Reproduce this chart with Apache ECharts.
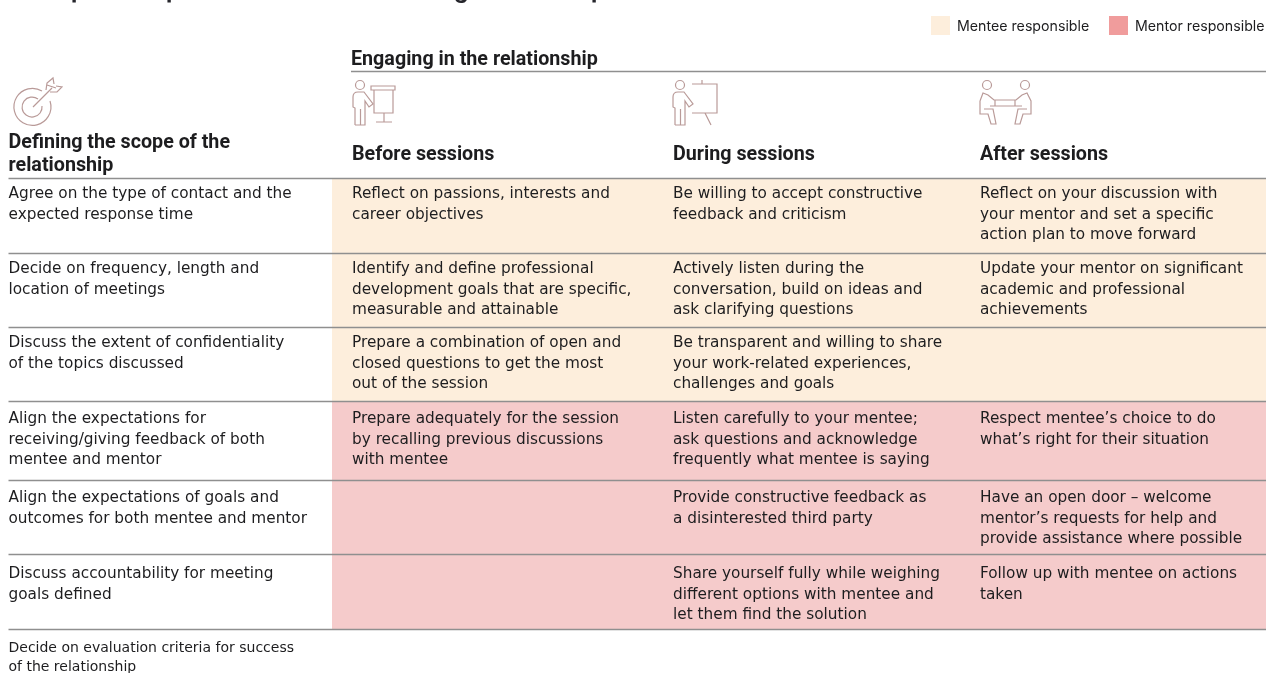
<!DOCTYPE html>
<html><head><meta charset="utf-8">
<style>html,body{margin:0;padding:0;background:#fff}#c{width:1267px;height:673px}</style>
<script src="https://cdn.jsdelivr.net/npm/echarts@6/dist/echarts.min.js"></script>
</head><body><div id="c"></div>
<script>
const columnTitles = ["Before sessions", "During sessions", "After sessions"];
const groupTitle = "Engaging in the relationship";
const scopeTitle = "Defining the scope of the\nrelationship";
const legendLabels = ["Mentee responsible", "Mentor responsible"];
const titleFragments = ["p", "p", "g", "p"];
const rowRoles = ["mentee", "mentee", "mentee", "mentor", "mentor", "mentor"];
const scopeItems = [
  "Agree on the type of contact and the\nexpected response time",
  "Decide on frequency, length and\nlocation of meetings",
  "Discuss the extent of confidentiality\nof the topics discussed",
  "Align the expectations for\nreceiving/giving feedback of both\nmentee and mentor",
  "Align the expectations of goals and\noutcomes for both mentee and mentor",
  "Discuss accountability for meeting\ngoals defined",
  "Decide on evaluation criteria for success\nof the relationship"
];
const beforeItems = [
  "Reflect on passions, interests and\ncareer objectives",
  "Identify and define professional\ndevelopment goals that are specific,\nmeasurable and attainable",
  "Prepare a combination of open and\nclosed questions to get the most\nout of the session",
  "Prepare adequately for the session\nby recalling previous discussions\nwith mentee",
  "", ""
];
const duringItems = [
  "Be willing to accept constructive\nfeedback and criticism",
  "Actively listen during the\nconversation, build on ideas and\nask clarifying questions",
  "Be transparent and willing to share\nyour work-related experiences,\nchallenges and goals",
  "Listen carefully to your mentee;\nask questions and acknowledge\nfrequently what mentee is saying",
  "Provide constructive feedback as\na disinterested third party",
  "Share yourself fully while weighing\ndifferent options with mentee and\nlet them find the solution"
];
const afterItems = [
  "Reflect on your discussion with\nyour mentor and set a specific\naction plan to move forward",
  "Update your mentor on significant\nacademic and professional\nachievements",
  "",
  "Respect mentee\u2019s choice to do\nwhat\u2019s right for their situation",
  "Have an open door \u2013 welcome\nmentor\u2019s requests for help and\nprovide assistance where possible",
  "Follow up with mentee on actions\ntaken"
];

// ---- layout (page units, mapped through the hidden axes) ----
const W = 1267, H = 673;
const rowEdges = [178, 253, 327, 401, 480, 554, 629];
const firstLine = [194.5, 269.5, 343.5, 419.5, 498.5, 574.5, 648.5];
const columnX = [352, 673, 980];
const fillLeft = 332, scopeX = 8.5, right = 1266;
const BODY = '400 15.3px "DejaVu Sans"';
const SMALL = '400 14px "DejaVu Sans"';
const KEY = '400 14.2px "Inter"';
const HEAD = '700 19.7px "Roboto"';
const INK = '#1d1d1f', LINE = '#8f8f8f', ICON = '#b99a98';
const COLORS = { mentee: '#fdeedc', mentor: '#f5cbcb', menteeKey: '#fdeedc', mentorKey: '#f09c9c' };

const rects = [], rules = [], texts = [];
rowRoles.forEach((r, i) => rects.push([fillLeft, rowEdges[i], right, rowEdges[i + 1], COLORS[r]]));
rects.push([931, 16, 950, 35, COLORS.menteeKey]);
rects.push([1109, 16, 1128, 35, COLORS.mentorKey]);
rowEdges.forEach(y => rules.push([scopeX, y, right, y]));
rules.push([351, 71, right, 71]);

function addText(x, y, text, font, lh, fill) { if (text) texts.push([x, y, text, font, lh, fill || INK]); }
scopeItems.forEach((t, i) => addText(scopeX, firstLine[i], t, i === 6 ? SMALL : BODY, i === 6 ? 19 : 20.5));
[beforeItems, duringItems, afterItems].forEach((col, c) =>
  col.forEach((t, i) => addText(columnX[c], firstLine[i], t, BODY, 20.5)));
columnTitles.forEach((t, c) => addText(columnX[c], 155, t, HEAD, 22));
addText(351, 60.5, groupTitle, HEAD, 22);
addText(scopeX, 143.5, scopeTitle, HEAD, 23);
addText(957, 27, legendLabels[0], KEY, 20);
addText(1135, 27, legendLabels[1], KEY, 20);
[71, 166, 454, 591].forEach((x, i) => addText(x, -9, titleFragments[i], '700 23px "Inter"', 22, '#26262c'));

const person = (dx) => `M${dx+355} 125 V108 L${dx+353} 107 V97 Q${dx+353} 92 ${dx+358} 92 H${dx+364} L${dx+373} 104 L${dx+369} 107 L${dx+365} 101 V125 H${dx+360.5} V109 M${dx+360.5} 125 H${dx+355} M${dx+364.5} 85 A4.5 4.5 0 1 1 ${dx+355.5} 85 A4.5 4.5 0 1 1 ${dx+364.5} 85`;
const iconPaths = [
  'M42 91 A18.5 18.5 0 1 0 50 101 M38 99 A10 10 0 1 0 42 106 M33 107 L52 88 M46 90 L47 83 L53 78 L54 84 M50 92 L57 92 L62 87 L56 86 M47 85 L56 88',
  person(0), 'M371 86 H395 V90 H371 Z M374 90 V113 H393 V90 M384 113 V122 M376 122 H392',
  person(320), 'M692 84 H717 V113 H692 M702 80 V84 M705 113 L711 125',
  'M980 101 L983 93 L988 95 L994 100 H1016 L1022 95 L1027 93 L1031 101 V114 H1023 L1020 124 H1015 L1018 109 H1027 M980 101 V114 H988 L991 124 H996 L993 109 H984 M990 106 H1022 M995 100 V106 M1015 100 V106 M991.5 85 A4.5 4.5 0 1 1 982.5 85 A4.5 4.5 0 1 1 991.5 85 M1029.5 85 A4.5 4.5 0 1 1 1020.5 85 A4.5 4.5 0 1 1 1029.5 85'
];

function rectSeries() {
  return { type: 'custom', coordinateSystem: 'cartesian2d', silent: true, data: rects, clip: false,
    encode: { x: [0, 2], y: [1, 3] }, z: 1,
    renderItem(p, api) {
      const a = api.coord([api.value(0), api.value(1)]), b = api.coord([api.value(2), api.value(3)]);
      return { type: 'rect', shape: { x: a[0], y: a[1], width: b[0] - a[0], height: b[1] - a[1] },
        style: { fill: rects[p.dataIndex][4] } };
    } };
}
function ruleSeries() {
  return { type: 'custom', coordinateSystem: 'cartesian2d', silent: true, data: rules, clip: false,
    encode: { x: [0, 2], y: [1, 3] }, z: 2,
    renderItem(p, api) {
      const a = api.coord([api.value(0), api.value(1)]), b = api.coord([api.value(2), api.value(3)]);
      return { type: 'line', shape: { x1: a[0], y1: a[1] + .5, x2: b[0], y2: b[1] + .5 },
        style: { stroke: LINE, lineWidth: 1.5 } };
    } };
}
function textSeries() {
  return { type: 'custom', coordinateSystem: 'cartesian2d', silent: true, clip: false,
    data: texts.map(t => [t[0], t[1]]), encode: { x: 0, y: 1 }, z: 3,
    renderItem(p, api) {
      const t = texts[p.dataIndex], a = api.coord([t[0], t[1]]);
      return { type: 'text', style: { x: a[0], y: a[1] - t[4] / 2, text: t[2], font: t[3], lineHeight: t[4],
        fill: t[5], align: 'left', verticalAlign: 'top' } };
    } };
}
function iconSeries() {
  return { type: 'custom', coordinateSystem: 'cartesian2d', silent: true, clip: false,
    data: iconPaths.map(() => [0, 0]), encode: { x: 0, y: 1 }, z: 3,
    renderItem(p) {
      return { type: 'path', shape: { pathData: iconPaths[p.dataIndex] },
        style: { stroke: ICON, lineWidth: 1.2, fill: null } };
    } };
}

const chart = echarts.init(document.getElementById('c'), null, { renderer: 'canvas', width: W, height: H });
chart.setOption({
  animation: false, backgroundColor: '#fff',
  grid: { left: 0, right: 0, top: 0, bottom: 0 },
  xAxis: { type: 'value', min: 0, max: W, show: false },
  yAxis: { type: 'value', min: 0, max: H, inverse: true, show: false },
  series: [rectSeries(), ruleSeries(), iconSeries(), textSeries()]
});
</script></body></html>
